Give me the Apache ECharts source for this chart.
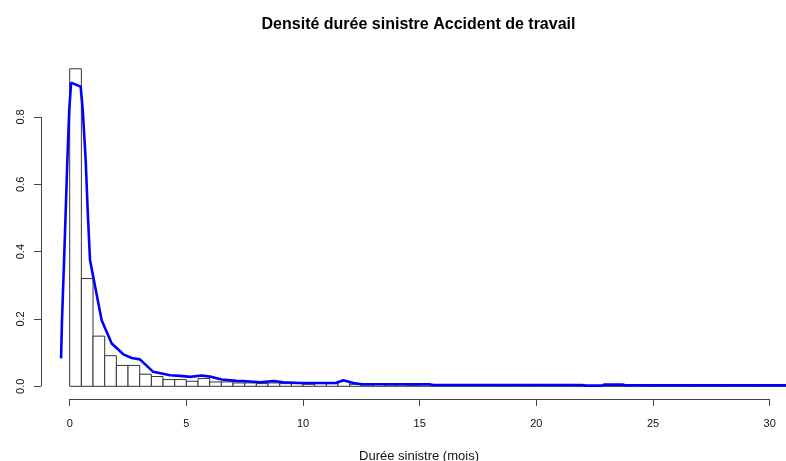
<!DOCTYPE html>
<html>
<head>
<meta charset="utf-8">
<script src="https://cdn.jsdelivr.net/npm/echarts@6/dist/echarts.min.js"></script>
<style>html,body{margin:0;padding:0;background:#fff}#c{width:786px;height:461px}</style>
</head>
<body>
<div id="c"></div>
<script>
// ---- data ----
const titleText = 'Densité durée sinistre Accident de travail';
const xAxisTitle = 'Durée sinistre (mois)';
const xTicks = [0, 5, 10, 15, 20, 25, 30];
const yTicks = [0, 0.2, 0.4, 0.6, 0.8];
const histStart = 0;
const histBinWidth = 0.5;
const histDensity = [
  0.943, 0.320, 0.149, 0.091, 0.062, 0.062, 0.036, 0.029, 0.020, 0.020,
  0.015, 0.023, 0.013, 0.013, 0.010, 0.010, 0.008, 0.010, 0.008, 0.008,
  0.006, 0.008, 0.008, 0.014, 0.006,
  0.004, 0.005, 0.004, 0.004, 0.003, 0.004, 0.002, 0.003, 0.002, 0.002,
  0.002, 0.002, 0.001, 0.002, 0.001, 0.002, 0.001, 0.001, 0.001, 0.001,
  0.001, 0.001, 0.001, 0.002, 0.001, 0.001, 0.001, 0.001, 0.001, 0.001,
  0.001, 0.001, 0.001, 0.001, 0.001, 0.001, 0.001
];
const densX = [-0.37, -0.33, -0.24, -0.17, -0.10, -0.02, 0.06, 0.47, 0.56, 0.685, 0.77, 0.87, 1.01, 1.37, 1.80, 2.30, 2.66, 3.01, 3.58, 4.30, 4.73, 5.16, 5.66, 6.09, 6.51, 7.16, 7.59, 8.16, 8.73, 9.16, 9.87, 10.44, 11.4, 11.73, 12.16, 12.51, 15.41, 15.6, 21.97, 22.1, 22.8, 22.9, 23.7, 23.8, 31.0];
const densY = [0.083, 0.196, 0.375, 0.523, 0.672, 0.820, 0.902, 0.890, 0.820, 0.672, 0.523, 0.375, 0.325, 0.196, 0.127, 0.095, 0.084, 0.080, 0.043, 0.033, 0.031, 0.028, 0.032, 0.028, 0.020, 0.016, 0.015, 0.012, 0.016, 0.012, 0.010, 0.010, 0.010, 0.018, 0.010, 0.006, 0.006, 0.004, 0.004, 0.002, 0.002, 0.005, 0.005, 0.003, 0.003];

// ---- scale extents (R-style 4% padding) ----
const xMin = -1.23, xMax = 30.70;
const yMin = -0.0377, yMax = 0.981;

const histData = histDensity.map((d, i) => [histStart + i * histBinWidth, histStart + (i + 1) * histBinWidth, d]);
const densData = densX.map((x, i) => [x, densY[i]]);

const chart = echarts.init(document.getElementById('c'), null, {renderer: 'canvas'});
const font = '"Liberation Sans", Arial, sans-serif';
chart.setOption({
  animation: false,
  backgroundColor: '#fff',
  grid: {left: 41, right: 0, top: 56, bottom: 62, containLabel: false},
  xAxis: {
    type: 'value', min: xMin, max: xMax,
    axisLine: {show: false, onZero: false},
    splitLine: {show: false},
    axisTick: {show: true, length: 7, customValues: xTicks, lineStyle: {color: '#444', width: 1}},
    axisLabel: {customValues: xTicks, margin: 19, color: '#111', fontSize: 11, fontFamily: font}
  },
  yAxis: {
    type: 'value', min: yMin, max: yMax,
    axisLine: {show: false, onZero: false},
    splitLine: {show: false},
    axisTick: {show: true, length: 7, customValues: yTicks, lineStyle: {color: '#444', width: 1}},
    axisLabel: {customValues: yTicks, rotate: 90, margin: 15, color: '#111', fontSize: 11, fontFamily: font,
      formatter: v => Number(v).toFixed(1)}
  },
  graphic: [
    {type: 'text', x: 418.5, y: 25, style: {text: titleText, fill: '#000', font: 'bold 16px ' + font, textAlign: 'center', textVerticalAlign: 'middle'}},
    {type: 'text', x: 419, y: 456, style: {text: xAxisTitle, fill: '#111', font: '13px ' + font, textAlign: 'center', textVerticalAlign: 'middle'}}
  ],
  series: [
    {
      type: 'custom',
      clip: true,
      encode: {x: [0, 1], y: 2},
      data: histData,
      renderItem: function (params, api) {
        const p0 = api.coord([api.value(0), 0]);
        const p1 = api.coord([api.value(1), api.value(2)]);
        return {
          type: 'rect',
          shape: {x: p0[0], y: p1[1], width: p1[0] - p0[0], height: p0[1] - p1[1]},
          style: {fill: '#fff', stroke: '#333', lineWidth: 1}
        };
      }
    },
    {
      type: 'line',
      data: densData,
      showSymbol: false,
      symbol: 'none',
      lineStyle: {color: '#0000ff', width: 2.6},
      itemStyle: {color: '#0000ff'},
      z: 5
    },
    {
      type: 'line',
      data: [],
      clip: false,
      markLine: {
        silent: true, symbol: 'none', animation: false,
        label: {show: false},
        lineStyle: {color: '#444', width: 1, type: 'solid'},
        data: [
          [{coord: [xTicks[0], yMin]}, {coord: [xTicks[xTicks.length - 1], yMin]}],
          [{coord: [xMin, yTicks[0]]}, {coord: [xMin, yTicks[yTicks.length - 1]]}]
        ]
      }
    }
  ]
});
</script>
</body>
</html>
